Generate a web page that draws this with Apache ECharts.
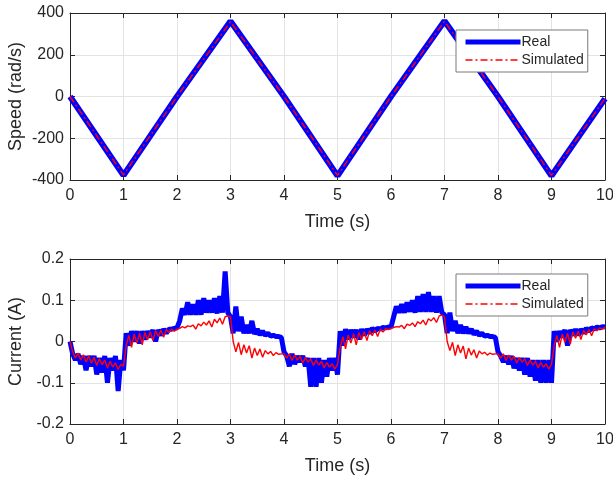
<!DOCTYPE html>
<html>
<head>
<meta charset="utf-8">
<script src="https://cdn.jsdelivr.net/npm/echarts@6/dist/echarts.min.js"></script>
<style>
  html, body { margin: 0; padding: 0; background: #fff; }
  #chart { width: 613px; height: 480px; }
</style>
</head>
<body>
<div id="chart"></div>
<script>
// Speed profile: corner points of the triangular reference (time in s, speed in rad/s)
const speedTime = [0, 1, 2, 3, 4, 5, 6, 7, 8, 9, 10];
const speedReal = [0, -378, 0, 360, 0, -380, 0, 362, 0, -380, -10];
const speedSim  = [0, -376, 0, 358, 0, -378, 0, 360, 0, -378, -10];

// Current samples, one every 0.05 s from 0 to 10 s (A)
const currentStep = 0.05;
const currentReal = [
  0.00, -0.03, -0.045, -0.03, -0.055, -0.035, -0.07, -0.035, -0.06, -0.035,
  -0.08, -0.04, -0.075, -0.035, -0.10, -0.04, -0.07, -0.035, -0.12, -0.045,
  -0.07, 0.02, -0.01, 0.025, 0.0, 0.025, -0.005, 0.025, 0.005, 0.025,
  0.01, 0.028, 0.0, 0.028, 0.015, 0.03, 0.02, 0.03, 0.03, 0.032,
  0.033, 0.05, 0.08, 0.065, 0.095, 0.065, 0.09, 0.065, 0.10, 0.065,
  0.105, 0.07, 0.10, 0.07, 0.105, 0.068, 0.11, 0.07, 0.17, 0.07,
  0.06, 0.02, 0.085, 0.025, 0.06, 0.02, 0.04, 0.02, 0.05, 0.018,
  0.03, 0.016, 0.025, 0.015, 0.02, 0.013, 0.015, 0.012, 0.012, 0.01,
  -0.025, -0.035, -0.06, -0.03, -0.055, -0.035, -0.05, -0.035, -0.06, -0.04,
  -0.11, -0.04, -0.11, -0.04, -0.10, -0.045, -0.085, -0.04, -0.07, -0.04,
  -0.08, 0.025, -0.01, 0.03, 0.005, 0.028, 0.01, 0.028, 0.005, 0.03,
  0.015, 0.03, 0.02, 0.032, 0.025, 0.032, 0.03, 0.034, 0.033, 0.035,
  0.035, 0.06, 0.085, 0.07, 0.09, 0.07, 0.095, 0.072, 0.10, 0.07,
  0.11, 0.072, 0.115, 0.072, 0.12, 0.072, 0.11, 0.07, 0.11, 0.07,
  0.065, 0.02, 0.07, 0.025, 0.05, 0.02, 0.04, 0.02, 0.035, 0.02,
  0.03, 0.017, 0.025, 0.015, 0.02, 0.013, 0.015, 0.012, 0.012, 0.01,
  -0.025, -0.035, -0.05, -0.035, -0.055, -0.035, -0.065, -0.04, -0.07, -0.04,
  -0.08, -0.04, -0.085, -0.045, -0.095, -0.045, -0.10, -0.045, -0.10, -0.045,
  -0.10, 0.025, 0.0, 0.025, 0.01, 0.028, -0.01, 0.028, 0.015, 0.03,
  0.015, 0.03, 0.02, 0.032, 0.025, 0.033, 0.03, 0.035, 0.033, 0.036,
  0.035
];
const currentSim = [
  0.0, -0.025, -0.04, -0.028, -0.045, -0.032, -0.05, -0.035, -0.052, -0.038,
  -0.058, -0.042, -0.056, -0.045, -0.064, -0.048, -0.062, -0.052, -0.068, -0.055,
  -0.06, -0.01, 0.015, -0.014, 0.018, -0.004, 0.02, -0.008, 0.022, 0.004,
  0.024, 0.002, 0.026, 0.012, 0.027, 0.01, 0.029, 0.022, 0.03, 0.025,
  0.03, 0.032, 0.036, 0.033, 0.038, 0.036, 0.04, 0.03, 0.043, 0.038,
  0.047, 0.04, 0.05, 0.035, 0.054, 0.045, 0.057, 0.042, 0.06, 0.062,
  0.06, 0.0, -0.025, -0.002, -0.032, -0.008, -0.028, -0.01, -0.04, -0.016,
  -0.034, -0.018, -0.038, -0.022, -0.03, -0.024, -0.034, -0.027, -0.031, -0.03,
  -0.03, -0.04, -0.03, -0.046, -0.033, -0.045, -0.036, -0.052, -0.039, -0.05,
  -0.042, -0.058, -0.045, -0.057, -0.048, -0.064, -0.051, -0.062, -0.054, -0.067,
  -0.055, -0.015, 0.012, -0.018, 0.016, -0.004, 0.019, -0.008, 0.022, 0.005,
  0.024, 0.002, 0.026, 0.014, 0.028, 0.012, 0.03, 0.023, 0.031, 0.029,
  0.032, 0.034, 0.036, 0.035, 0.039, 0.031, 0.042, 0.039, 0.045, 0.036,
  0.048, 0.043, 0.052, 0.04, 0.055, 0.05, 0.058, 0.046, 0.062, 0.064,
  0.06, 0.0, -0.022, -0.002, -0.034, -0.008, -0.028, -0.011, -0.042, -0.016,
  -0.033, -0.02, -0.04, -0.023, -0.03, -0.026, -0.033, -0.028, -0.031, -0.03,
  -0.03, -0.04, -0.03, -0.046, -0.033, -0.045, -0.036, -0.052, -0.039, -0.05,
  -0.042, -0.058, -0.045, -0.057, -0.048, -0.064, -0.051, -0.062, -0.054, -0.067,
  -0.055, -0.01, 0.015, -0.014, 0.018, -0.002, 0.02, -0.006, 0.023, 0.008,
  0.025, 0.005, 0.027, 0.016, 0.029, 0.014, 0.031, 0.026, 0.033, 0.03,
  0.035
];

const timeTicks = { min: 0, max: 10, interval: 1 };
const speedTicks = { min: -400, max: 400, interval: 200 };
const currentTicks = { min: -0.2, max: 0.2, interval: 0.1 };

const pairs = (t, v) => v.map((y, i) => [t[i], y]);
const sampled = (v) => v.map((y, i) => [+(i * currentStep).toFixed(2), y]);

const FONT = 'Liberation Sans, Arial, sans-serif';
const TEXT = '#262626';
const FRAME = '#262626';
const BLUE = '#0000ff';
const RED = '#ff0000';
const DASH_DOT = [7, 3, 2, 3];

function mainX(grid) {
  return {
    type: 'value', gridIndex: grid, ...timeTicks,
    name: 'Time (s)', nameLocation: 'middle', nameGap: 33,
    nameTextStyle: { fontFamily: FONT, fontSize: 18, color: TEXT },
    axisLine: { show: true, onZero: false, lineStyle: { color: FRAME, width: 1 } },
    axisTick: { show: true, inside: true, length: 5, lineStyle: { color: FRAME } },
    axisLabel: { fontFamily: FONT, fontSize: 16, color: TEXT, margin: 8 },
    splitLine: { show: true, lineStyle: { color: '#e3e3e3', width: 1 } }
  };
}
function topX(grid) {
  return {
    type: 'value', gridIndex: grid, position: 'top', ...timeTicks,
    axisLine: { show: true, onZero: false, lineStyle: { color: FRAME, width: 1 } },
    axisTick: { show: true, inside: true, length: 5, lineStyle: { color: FRAME } },
    axisLabel: { show: false }, splitLine: { show: false }
  };
}
function mainY(grid, ticks, name) {
  return {
    type: 'value', gridIndex: grid, ...ticks,
    name: name, nameLocation: 'middle', nameGap: 45, nameMoveOverlap: false,
    nameTextStyle: { fontFamily: FONT, fontSize: 18, color: TEXT },
    axisLine: { show: true, onZero: false, lineStyle: { color: FRAME, width: 1 } },
    axisTick: { show: true, inside: true, length: 5, lineStyle: { color: FRAME } },
    axisLabel: { fontFamily: FONT, fontSize: 16, color: TEXT, margin: 6 },
    splitLine: { show: true, lineStyle: { color: '#e3e3e3', width: 1 } }
  };
}
function rightY(grid, ticks) {
  return {
    type: 'value', gridIndex: grid, position: 'right', ...ticks,
    axisLine: { show: true, onZero: false, lineStyle: { color: FRAME, width: 1 } },
    axisTick: { show: true, inside: true, length: 5, lineStyle: { color: FRAME } },
    axisLabel: { show: false }, splitLine: { show: false }
  };
}

function legendAt(top) {
  return {
    orient: 'vertical', left: 456, top: top,
    data: [
      { name: 'Real', itemStyle: { opacity: 0 }, lineStyle: { color: BLUE, width: 5, type: 'solid' } },
      { name: 'Simulated', itemStyle: { opacity: 0 }, lineStyle: { color: RED, width: 1.5, type: DASH_DOT } }
    ],
    itemWidth: 55, itemHeight: 14, itemGap: 4,
    padding: [5, 4, 5, 7],
    backgroundColor: '#ffffff', borderColor: '#7a7a7a', borderWidth: 1,
    textStyle: { fontFamily: FONT, fontSize: 14, color: TEXT, padding: [0, 0, 0, -4] },
    selectedMode: false
  };
}

const option = {
  animation: false,
  backgroundColor: '#ffffff',
  grid: [
    { left: 70, right: 8, top: 13, height: 167, outerBoundsMode: 'none' },
    { left: 70, right: 8, top: 259, height: 165, outerBoundsMode: 'none' }
  ],
  xAxis: [mainX(0), topX(0), mainX(1), topX(1)],
  yAxis: [
    mainY(0, speedTicks, 'Speed (rad/s)'), rightY(0, speedTicks),
    mainY(1, currentTicks, 'Current (A)'), rightY(1, currentTicks)
  ],
  legend: [legendAt(30), legendAt(274)],
  series: [
    { name: 'Real', type: 'line', xAxisIndex: 0, yAxisIndex: 0, symbol: 'none',
      itemStyle: { color: BLUE }, lineStyle: { color: BLUE, width: 6 },
      data: pairs(speedTime, speedReal) },
    { name: 'Simulated', type: 'line', xAxisIndex: 0, yAxisIndex: 0, symbol: 'none',
      itemStyle: { color: RED }, lineStyle: { color: RED, width: 1.5, type: DASH_DOT },
      data: pairs(speedTime, speedSim) },
    { name: 'Real', type: 'line', xAxisIndex: 2, yAxisIndex: 2, symbol: 'none',
      itemStyle: { color: BLUE }, lineStyle: { color: BLUE, width: 5 },
      data: sampled(currentReal) },
    { name: 'Simulated', type: 'line', xAxisIndex: 2, yAxisIndex: 2, symbol: 'none',
      itemStyle: { color: RED }, lineStyle: { color: RED, width: 1.4 },
      data: sampled(currentSim) }
  ]
};

const chart = echarts.init(document.getElementById('chart'), null, { renderer: 'canvas' });
chart.setOption(option);
</script>
</body>
</html>
